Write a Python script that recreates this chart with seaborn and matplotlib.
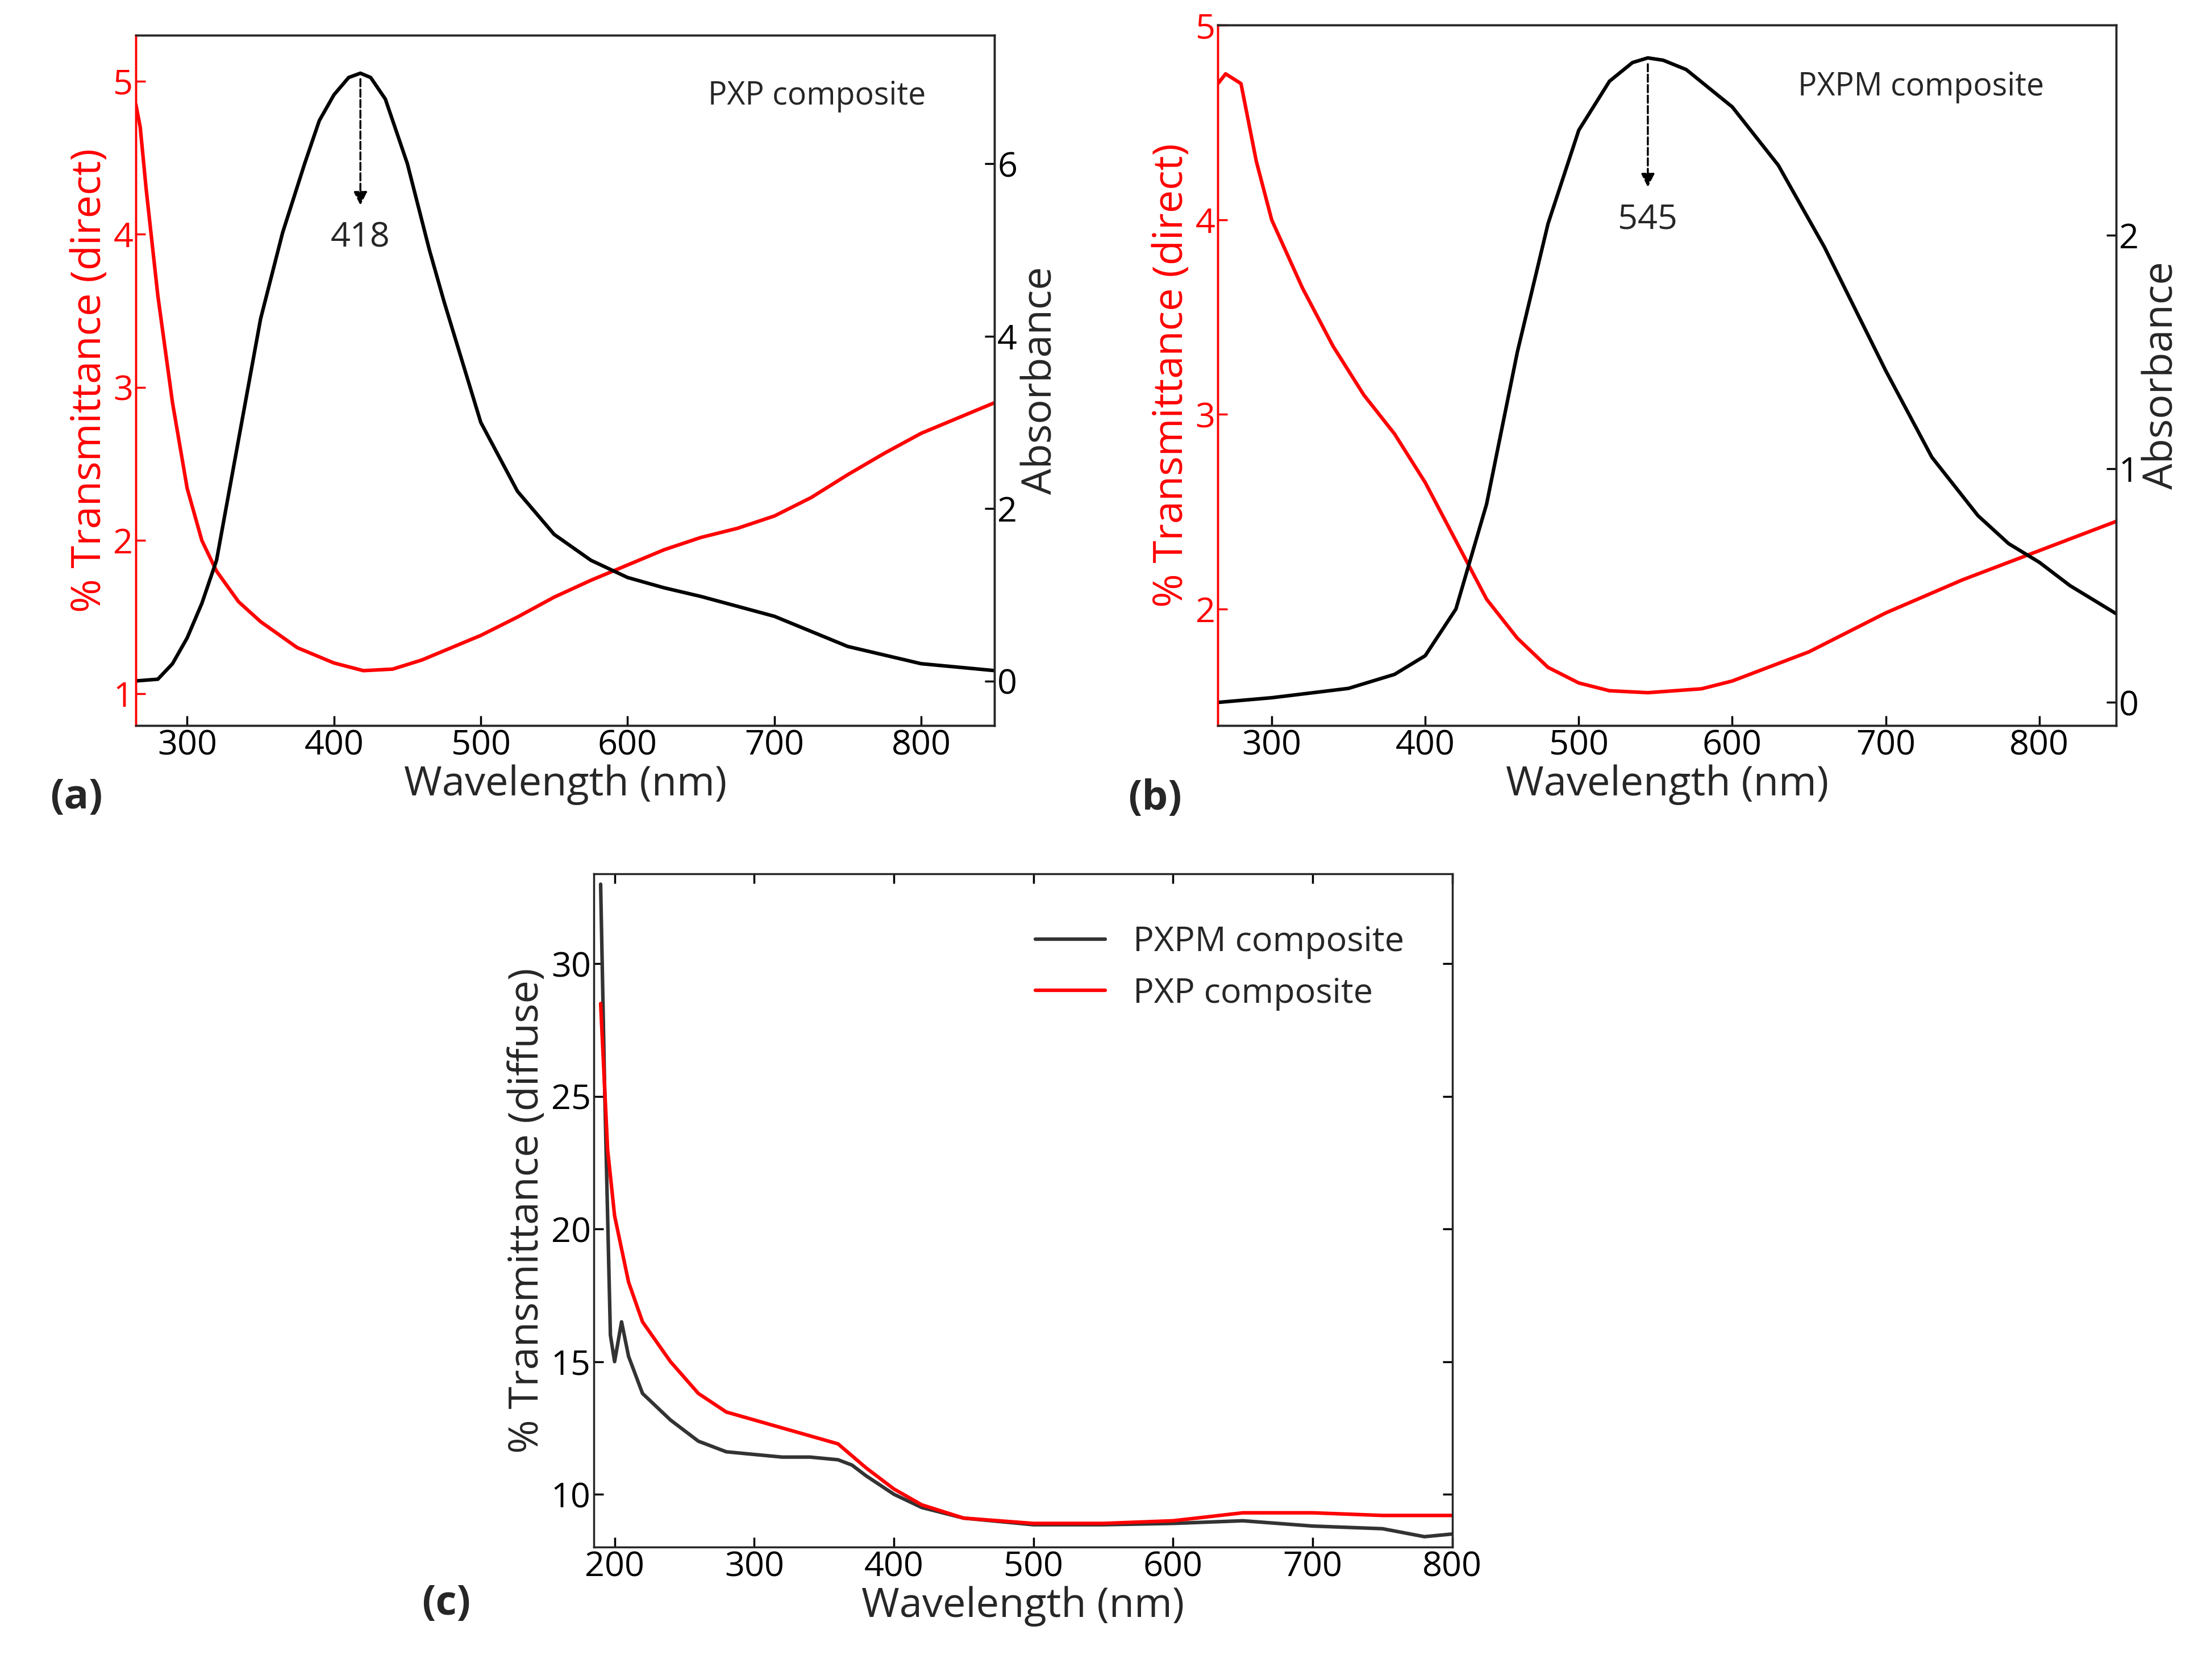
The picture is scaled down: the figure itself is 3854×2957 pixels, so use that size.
import numpy as np
import pandas as pd
import matplotlib.pyplot as plt
import seaborn as sns

# panel (a) PXP composite
a_wl_t = [265, 268, 272, 280, 290, 300, 310, 320, 335, 350, 375, 400, 420, 440, 460, 480, 500, 525, 550, 575, 600, 625, 650, 675, 700, 725, 750, 775, 800, 825, 850]
a_trans = [4.85, 4.7, 4.3, 3.6, 2.9, 2.34, 2.0, 1.8, 1.6, 1.47, 1.3, 1.2, 1.15, 1.16, 1.22, 1.3, 1.38, 1.5, 1.63, 1.74, 1.84, 1.94, 2.02, 2.08, 2.16, 2.28, 2.43, 2.57, 2.7, 2.8, 2.9]
a_wl_a = [265, 280, 290, 300, 310, 320, 335, 350, 365, 380, 390, 400, 410, 418, 425, 435, 450, 465, 475, 500, 525, 550, 575, 600, 625, 650, 700, 750, 800, 850]
a_abs = [0.0, 0.02, 0.2, 0.5, 0.9, 1.4, 2.8, 4.2, 5.2, 6.0, 6.5, 6.8, 7.0, 7.05, 7.0, 6.75, 6.0, 5.0, 4.4, 3.0, 2.2, 1.7, 1.4, 1.2, 1.08, 0.98, 0.75, 0.4, 0.2, 0.12]

# panel (b) PXPM composite
b_wl_t = [265, 270, 280, 290, 300, 320, 340, 360, 380, 400, 420, 440, 460, 480, 500, 520, 545, 580, 600, 650, 700, 750, 800, 850]
b_trans = [4.7, 4.75, 4.7, 4.3, 4.0, 3.65, 3.35, 3.1, 2.9, 2.65, 2.35, 2.05, 1.85, 1.7, 1.62, 1.58, 1.57, 1.59, 1.63, 1.78, 1.98, 2.15, 2.3, 2.45]
b_wl_a = [265, 300, 350, 380, 400, 420, 440, 460, 480, 500, 520, 535, 545, 555, 570, 600, 630, 660, 700, 730, 760, 780, 800, 820, 850]
b_abs = [0.0, 0.02, 0.06, 0.12, 0.2, 0.4, 0.85, 1.5, 2.05, 2.45, 2.66, 2.74, 2.76, 2.75, 2.71, 2.55, 2.3, 1.95, 1.42, 1.05, 0.8, 0.68, 0.6, 0.5, 0.38]

# panel (c) diffuse transmittance
c_wl_m = [190, 193, 197, 200, 205, 210, 220, 240, 260, 280, 300, 320, 340, 360, 370, 380, 400, 420, 450, 500, 550, 600, 650, 700, 750, 780, 800]
c_pxpm = [33, 25, 16, 15, 16.5, 15.2, 13.8, 12.8, 12.0, 11.6, 11.5, 11.4, 11.4, 11.3, 11.1, 10.7, 10.0, 9.5, 9.1, 8.85, 8.85, 8.9, 9.0, 8.8, 8.7, 8.4, 8.5]
c_wl_p = [190, 195, 200, 210, 220, 240, 260, 280, 300, 320, 340, 360, 380, 400, 420, 450, 500, 550, 600, 650, 700, 750, 800]
c_pxp = [28.5, 23, 20.5, 18.0, 16.5, 15.0, 13.8, 13.1, 12.8, 12.5, 12.2, 11.9, 11.0, 10.2, 9.6, 9.1, 8.9, 8.9, 9.0, 9.3, 9.3, 9.2, 9.2]

sns.set_theme(style='ticks')
plt.rcParams['font.family'] = ['Open Sans', 'DejaVu Sans']
TS, LS, LW = 44, 52, 4.5
RED = '#ff0000'

fig = plt.figure(figsize=(38.55, 29.57), dpi=100)
ax_a = fig.add_axes([0.062, 0.568, 0.392, 0.411])
ax_b = fig.add_axes([0.556, 0.568, 0.410, 0.417])
ax_c = fig.add_axes([0.271, 0.079, 0.392, 0.401])


def style(ax, color='black'):
    ax.tick_params(direction='in', labelsize=TS, width=2.5, length=12, colors=color)
    for s in ax.spines.values():
        s.set_linewidth(2.5)


def twin_panel(ax, wl_t, tr, wl_a, ab, ylim_l, ylim_r, yticks_l, yticks_r, peak, pk_y, pk_txt, name, label):
    sns.lineplot(x=wl_t, y=tr, ax=ax, color=RED, lw=LW)
    ax.set_xlim(265, 850)
    ax.set_ylim(*ylim_l)
    ax.set_yticks(yticks_l)
    ax.set_xticks([300, 400, 500, 600, 700, 800])
    style(ax)
    ax.tick_params(axis='y', colors=RED)
    ax.spines['left'].set_color(RED)
    ax.set_ylabel('% Transmittance (direct)', color=RED, fontsize=LS)
    ax.set_xlabel('Wavelength (nm)', fontsize=LS, labelpad=2)
    ax2 = ax.twinx()
    sns.lineplot(x=wl_a, y=ab, ax=ax2, color='black', lw=LW)
    ax2.set_ylim(*ylim_r)
    ax2.set_yticks(yticks_r)
    style(ax2)
    ax2.spines['left'].set_color(RED)
    ax2.set_ylabel('Absorbance', fontsize=LS)
    ax2.annotate('', xy=(peak, pk_y[1]), xytext=(peak, pk_y[0]),
                 arrowprops=dict(arrowstyle='-|>', ls='--', lw=2.5, color='black', mutation_scale=35))
    ax2.text(peak, pk_y[1] - 0.02 * (ylim_r[1] - ylim_r[0]), pk_txt, ha='center', va='top', fontsize=TS)
    ax2.text(0.92, 0.9, name, transform=ax.transAxes, ha='right', fontsize=40)
    ax.text(-0.1, -0.12, label, transform=ax.transAxes, fontsize=LS, fontweight='bold')


twin_panel(ax_a, a_wl_t, a_trans, a_wl_a, a_abs, (0.79, 5.3), (-0.52, 7.49), [1, 2, 3, 4, 5], [0, 2, 4, 6],
           418, (7.0, 5.5), '418', 'PXP composite', '(a)')
twin_panel(ax_b, b_wl_t, b_trans, b_wl_a, b_abs, (1.4, 5.0), (-0.1, 2.9), [2, 3, 4, 5], [0, 1, 2],
           545, (2.74, 2.2), '545', 'PXPM composite', '(b)')

sns.lineplot(x=c_wl_m, y=c_pxpm, ax=ax_c, color='#333333', lw=LW, label='PXPM composite')
sns.lineplot(x=c_wl_p, y=c_pxp, ax=ax_c, color=RED, lw=LW, label='PXP composite')
ax_c.set_xlim(185, 800)
ax_c.set_ylim(8.0, 33.4)
ax_c.set_xticks([200, 300, 400, 500, 600, 700, 800])
ax_c.set_yticks([10, 15, 20, 25, 30])
style(ax_c)
ax_c.tick_params(top=True, right=True)
ax_c.set_xlabel('Wavelength (nm)', fontsize=LS, labelpad=2)
ax_c.set_ylabel('% Transmittance (diffuse)', fontsize=LS)
ax_c.legend(frameon=False, fontsize=44, loc='upper right', bbox_to_anchor=(0.98, 0.97))
ax_c.text(-0.2, -0.1, '(c)', transform=ax_c.transAxes, fontsize=LS, fontweight='bold')

fig.savefig('out.png', dpi=100)
